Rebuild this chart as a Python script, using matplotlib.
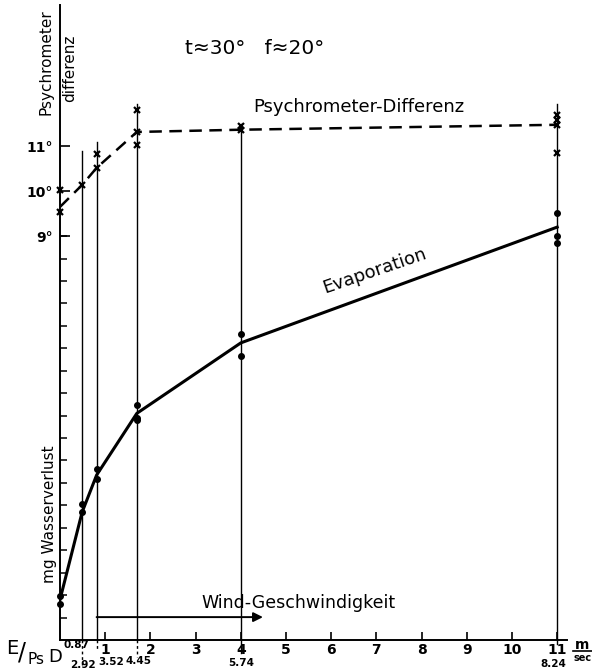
import matplotlib.pyplot as plt
from matplotlib.ticker import FixedLocator

# wind speed (m/sec) of each measurement series
wind = [0.0, 0.49, 0.81, 1.70, 4.0, 11.0]
# E/PsD value noted under each series
e_psd = ['0.87', '2.92', '3.52', '4.45', '5.74', '8.24']

# evaporation (mg water loss, tick units): curve and single readings
evap_curve = [1.8, 5.70, 7.35, 10.1, 13.24, 18.4]
evap_points = [[1.95, 1.6], [5.70, 6.06], [7.62, 7.17], [10.47, 9.89, 9.80],
               [13.64, 12.66], [19.03, 18.0, 17.7]]

# psychrometer difference (degrees): curve and single readings
psy_curve = [9.65, 10.14, 10.52, 11.32, 11.37, 11.48]
psy_points = [[9.54, 10.03], [10.14], [10.52, 10.83], [11.81, 11.32, 11.03],
              [11.45, 11.36], [11.70, 11.59, 11.48, 10.85]]

# top of the vertical guide line at each wind speed
guide_top = [None, 21.8, 22.2, 23.9, 23.0, 23.9]

x_ticks = list(range(1, 12))
psy_ticks = [9, 10, 11]

plt.rcParams['font.family'] = 'DejaVu Sans'

fig = plt.figure(figsize=(5.92, 6.71), dpi=100)
ax = fig.add_axes([60 / 592, 31 / 671, 507 / 592, 635 / 671])
ymax = 635 / 22.44
ax.set_xlim(0, 507 / 45.2)
ax.set_ylim(0, ymax)

for s in ['top', 'right']:
    ax.spines[s].set_visible(False)
ax.spines['left'].set_linewidth(1.4)
ax.spines['bottom'].set_linewidth(1.4)

ax.xaxis.set_major_locator(FixedLocator(x_ticks))
ax.tick_params(axis='x', direction='in', length=6, width=1.2, pad=2,
               labelsize=10)
for lab in ax.get_xticklabels():
    lab.set_fontweight('bold')
ax.yaxis.set_major_locator(FixedLocator(range(1, 19)))
ax.tick_params(axis='y', direction='in', length=5, width=1.1, labelleft=False)

# second scale for the psychrometer difference (1 degree = 2 ticks)
ax2 = ax.twinx()
ax2.set_ylim(0, ymax / 2)
for s in ax2.spines.values():
    s.set_visible(False)
ax2.yaxis.set_ticks_position('left')
ax2.yaxis.set_label_position('left')
ax2.yaxis.set_major_locator(FixedLocator(psy_ticks))
ax2.set_yticklabels(['%d°' % t for t in psy_ticks], fontweight='bold')
ax2.tick_params(axis='y', direction='in', length=7, width=1.2, labelsize=10,
                left=True, labelleft=True, right=False, labelright=False, pad=5)

# vertical guide lines, dashed below the axis down to the E/PsD values
below = {0.49: -1.1, 0.81: -0.5, 1.70: -0.75, 4.0: -0.6, 11.0: -0.2}
for w, top in zip(wind, guide_top):
    if top is None:
        continue
    ax.plot([w, w], [0, top], color='black', lw=1.0)
    style = '-' if w >= 4 else (0, (2, 2))
    ax.plot([w, w], [0, below[w]], color='black', lw=1.0, ls=style,
            clip_on=False)

# evaporation curve
ax.plot(wind, evap_curve, color='black', lw=2.2)
for w, pts in zip(wind, evap_points):
    ax.plot([w] * len(pts), pts, 'o', color='black', ms=4, clip_on=False)

# psychrometer difference curve
ax2.plot(wind, psy_curve, color='black', lw=1.8, ls=(0, (5, 3)))
for w, pts in zip(wind, psy_points):
    ax2.plot([w] * len(pts), pts, 'x', color='black', ms=5, mew=1.6,
             clip_on=False)

# wind speed arrow
ax.annotate('', xy=(4.49, 1.02), xytext=(wind[2], 1.02),
            arrowprops=dict(arrowstyle='-|>', color='black', lw=1.4,
                            mutation_scale=14, shrinkA=0, shrinkB=0))
ax.text(5.27, 1.65, 'Wind-Geschwindigkeit', fontsize=12.5, ha='center',
        va='center')

ax.text(6.97, 16.45, 'Evaporation', fontsize=13, rotation=19,
        ha='center', va='center')
ax2.text(6.6, 11.88, 'Psychrometer-Differenz', fontsize=13, ha='center',
         va='center')
ax2.text(4.3, 13.17, 't≈30°   f≈20°', fontsize=14.5, ha='center', va='center')

# axis titles
fig.text(46 / 592, 1 - 62 / 671, 'Psychrometer', rotation=90, fontsize=11,
         ha='center', va='center')
fig.text(70 / 592, 1 - 68 / 671, 'differenz', rotation=90, fontsize=11,
         ha='center', va='center')
fig.text(50 / 592, 1 - 514 / 671, 'mg Wasserverlust', rotation=90,
         fontsize=11, ha='center', va='center')

# E/PsD row under the axis
label_pos = [(76, 645), (83, 665), (111, 662), (138, 661), (241, 663),
             (553, 664)]
for (px, py), t in zip(label_pos, e_psd):
    fig.text(px / 592, 1 - py / 671, t, fontsize=7.5, fontweight='bold',
             ha='center', va='center')
fig.text(12 / 592, 1 - 648 / 671, 'E', fontsize=14, ha='center', va='center')
fig.text(22 / 592, 1 - 652 / 671, '/', fontsize=17, ha='center', va='center')
fig.text(36 / 592, 1 - 659 / 671, 'Ps', fontsize=11, ha='center', va='center')
fig.text(55 / 592, 1 - 657 / 671, 'D', fontsize=13, ha='center', va='center')

# m/sec unit at the end of the axis
fig.text(582 / 592, 1 - 645 / 671, 'm', fontsize=10, fontweight='bold',
         ha='center', va='center')
fig.add_artist(plt.Line2D([573 / 592, 592 / 592], [1 - 651 / 671] * 2,
                          color='black', lw=1.2))
fig.text(574 / 592, 1 - 658 / 671, 'sec', fontsize=7, fontweight='bold',
         ha='left', va='center')

fig.savefig('out.png', dpi=100)
